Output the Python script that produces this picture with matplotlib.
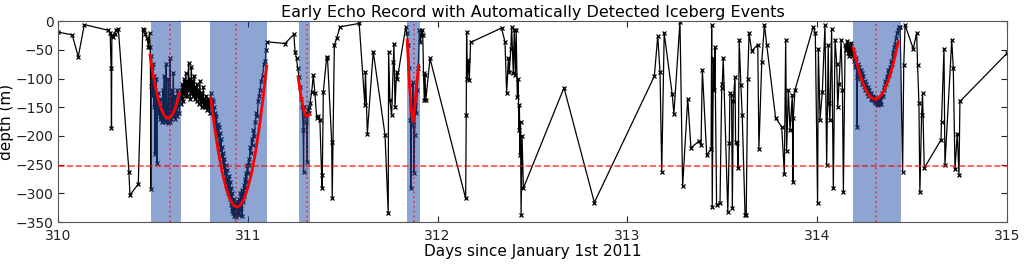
import matplotlib
matplotlib.use("Agg")
import matplotlib.pyplot as plt

# echo record: day, depth (m)
echo_days = [
    310.000, 310.075, 310.107, 310.139, 310.265, 310.275, 310.280, 310.282, 310.284, 310.290,
    310.298, 310.305, 310.318, 310.374, 310.379, 310.423, 310.447, 310.452, 310.460, 310.470,
    310.476,
    # event 1
    310.483, 310.486, 310.488, 310.490, 310.492, 310.495, 310.498, 310.500, 310.503, 310.506,
    310.508, 310.511, 310.513, 310.516, 310.518, 310.521, 310.523, 310.526, 310.528, 310.531,
    310.534, 310.536, 310.539, 310.541, 310.544, 310.547, 310.549, 310.552, 310.554, 310.557,
    310.560, 310.562, 310.565, 310.568, 310.570, 310.573, 310.576, 310.578, 310.581, 310.584,
    310.586, 310.589, 310.591, 310.594, 310.597, 310.600, 310.602, 310.605, 310.608, 310.610,
    310.613, 310.616, 310.618, 310.621, 310.624, 310.626, 310.629, 310.632, 310.635, 310.637,
    310.640, 310.643, 310.646, 310.649,
    # between events 1 and 2
    310.652, 310.655, 310.658, 310.661, 310.664, 310.667, 310.670, 310.673, 310.676, 310.679,
    310.682, 310.685, 310.688, 310.691, 310.694, 310.697, 310.700, 310.703, 310.706, 310.709,
    310.712, 310.715, 310.718, 310.721, 310.724, 310.727, 310.730, 310.733, 310.736, 310.739,
    310.742, 310.745, 310.748, 310.751, 310.754, 310.757, 310.760, 310.763, 310.766, 310.769,
    310.772, 310.775, 310.778, 310.781, 310.784, 310.787, 310.790, 310.793, 310.796, 310.799,
    # event 2
    310.802, 310.805, 310.808, 310.811, 310.814, 310.817, 310.820, 310.823, 310.826, 310.829,
    310.832, 310.835, 310.838, 310.841, 310.844, 310.847, 310.850, 310.853, 310.856, 310.859,
    310.862, 310.865, 310.868, 310.871, 310.874, 310.877, 310.880, 310.883, 310.886, 310.889,
    310.892, 310.895, 310.898, 310.901, 310.904, 310.907, 310.910, 310.913, 310.916, 310.919,
    310.922, 310.925, 310.928, 310.931, 310.934, 310.937, 310.940, 310.943, 310.946, 310.949,
    310.952, 310.955, 310.958, 310.961, 310.964, 310.967, 310.970, 310.973, 310.976, 310.979,
    310.982, 310.985, 310.988, 310.991, 310.994, 310.997, 311.000, 311.004, 311.008, 311.012,
    311.016, 311.020, 311.025, 311.030, 311.035, 311.040, 311.045, 311.050, 311.055, 311.060,
    311.065, 311.070, 311.078, 311.085, 311.092, 311.097, 311.100,
    # up to event 3
    311.196, 311.243, 311.249, 311.257, 311.263,
    # event 3
    311.270, 311.276, 311.282, 311.287, 311.292, 311.294, 311.297, 311.301, 311.305, 311.309,
    311.312, 311.316, 311.320, 311.324, 311.328, 311.337, 311.345, 311.354, 311.363, 311.372,
    311.380, 311.389, 311.392, 311.398, 311.416, 311.420, 311.442, 311.445, 311.456, 311.468,
    311.486, 311.587,
    311.617, 311.620, 311.630, 311.661, 311.723, 311.740, 311.742, 311.749, 311.758, 311.767,
    311.770, 311.776, 311.784, 311.788, 311.832,
    # event 4
    311.838, 311.846, 311.849, 311.853, 311.857, 311.859, 311.863, 311.867, 311.870, 311.873,
    311.876, 311.879, 311.883, 311.888, 311.893, 311.898, 311.904, 311.910, 311.914, 311.918,
    311.922, 311.926, 311.930, 311.934, 311.938, 311.960,
    312.148, 312.151, 312.153, 312.156, 312.162, 312.167, 312.174, 312.337, 312.355, 312.364,
    312.373, 312.378, 312.386, 312.390, 312.399, 312.404, 312.410, 312.414, 312.420, 312.425,
    312.428, 312.431, 312.434, 312.437, 312.440, 312.445, 312.452, 312.666, 312.826, 313.142,
    313.160, 313.172, 313.181, 313.194, 313.236, 313.245, 313.277, 313.291, 313.318, 313.335,
    313.377, 313.388, 313.395, 313.418, 313.441, 313.444, 313.447, 313.453, 313.458, 313.461,
    313.470, 313.488, 313.497, 313.500, 313.505, 313.529, 313.537, 313.540, 313.549, 313.553,
    313.558, 313.567, 313.570, 313.579, 313.584, 313.589, 313.598, 313.605, 313.620, 313.626,
    313.634, 313.641, 313.655, 313.687, 313.693, 313.708, 313.722, 313.734, 313.781, 313.813,
    313.827, 313.834, 313.839, 313.848, 313.857, 313.869, 313.872, 313.874, 313.883, 313.979,
    313.990, 314.002, 314.006, 314.015, 314.027, 314.041, 314.050, 314.058, 314.062, 314.067,
    314.076, 314.085, 314.094, 314.103, 314.108, 314.115, 314.126, 314.133, 314.138, 314.147,
    314.152, 314.156, 314.160, 314.164, 314.168, 314.172, 314.176, 314.180, 314.184, 314.188,
    # event 5
    314.192, 314.196, 314.200, 314.204, 314.208, 314.210, 314.213, 314.218, 314.222, 314.226,
    314.230, 314.234, 314.238, 314.242, 314.246, 314.250, 314.254, 314.258, 314.262, 314.266,
    314.270, 314.274, 314.278, 314.282, 314.286, 314.290, 314.294, 314.298, 314.302, 314.306,
    314.310, 314.314, 314.318, 314.322, 314.326, 314.330, 314.334, 314.338, 314.342, 314.346,
    314.350, 314.354, 314.358, 314.362, 314.366, 314.370, 314.374, 314.378, 314.382, 314.386,
    314.390, 314.394, 314.398, 314.402, 314.406, 314.410, 314.415, 314.420, 314.424, 314.430,
    314.437,
    314.450, 314.456, 314.463, 314.506, 314.524, 314.529, 314.536, 314.541, 314.550, 314.555,
    314.564, 314.652, 314.655, 314.668, 314.673, 314.709, 314.717, 314.726, 314.738, 314.747,
    314.752, 315.000,
]

echo_depth = [
    -19, -24, -62, -6, -16, -20, -82, -186, -25, -27,
    -22, -16, -13, -262, -303, -284, -13, -16, -22, -30,
    -45,
    # event 1
    -20, -45, -113, -292, -60, -80, -130, -75, -110, -150,
    -95, -232, -120, -140, -100, -247, -135, -150, -125, -160,
    -145, -170, -135, -165, -150, -175, -155, -120, -170, -160,
    -95, -175, -165, -150, -75, -170, -160, -178, -100, -165,
    -155, -175, -65, -160, -170, -150, -120, -165, -90, -160,
    -150, -170, -130, -160, -140, -165, -120, -150, -145, -130,
    -160, -125, -145, -120,
    # between events 1 and 2
    -135, -110, -140, -120, -100, -130, -115, -90, -125, -105,
    -130, -110, -73, -120, -100, -135, -110, -80, -125, -105,
    -130, -115, -95, -135, -115, -120, -140, -110, -130, -120,
    -145, -125, -105, -140, -130, -150, -125, -140, -115, -145,
    -135, -150, -130, -145, -140, -155, -135, -150, -140, -160,
    # event 2
    -140, -125, -150, -135, -160, -140, -165, -150, -175, -160,
    -185, -165, -195, -180, -200, -185, -215, -195, -225, -205,
    -235, -220, -245, -230, -255, -240, -265, -250, -280, -260,
    -290, -275, -300, -270, -310, -280, -320, -290, -330, -300,
    -335, -310, -340, -315, -335, -320, -342, -318, -335, -315,
    -338, -310, -330, -300, -325, -295, -340, -300, -315, -285,
    -305, -275, -290, -265, -280, -250, -265, -240, -250, -220,
    -230, -205, -215, -190, -200, -175, -160, -165, -140, -130,
    -120, -105, -95, -75, -70, -50, -36,
    # up to event 3
    -39, -23, -53, -65, -82,
    # event 3
    -97, -115, -135, -150, -190, -262, -150, -165, -160, -175,
    -245, -155, -150, -160, -143, -123, -94, -126, -169, -165,
    -172, -268, -291, -123, -62, -64, -210, -308, -42, -30,
    -10, -4,
    -146, -88, -196, -53, -198, -335, -53, -138, -164, -71,
    -39, -149, -88, -100, -11,
    # event 4
    -20, -42, -82, -111, -172, -291, -150, -172, -106, -181,
    -265, -198, -146, -160, -120, -82, -16, -36, -24, -15,
    -24, -91, -138, -94, -138, -65,
    -309, -164, -19, -100, -68, -103, -37, -12, -36, -126,
    -65, -88, -48, -10, -91, -16, -94, -16, -132, -100,
    -190, -146, -233, -175, -338, -200, -291, -116, -316, -96,
    -26, -89, -262, -21, -127, -162, -1, -288, -135, -221,
    -209, -215, -85, -234, -222, -7, -323, -65, -120, -45,
    -320, -317, -117, -109, -65, -332, -213, -126, -129, -326,
    -140, -97, -210, -213, -256, -33, -111, -164, -338, -338,
    -100, -21, -52, -41, -222, -71, -6, -41, -169, -184,
    -267, -33, -226, -120, -190, -129, -280, -169, -120, -10,
    -20, -317, -48, -172, -123, -7, -251, -42, -143, -172,
    -13, -291, -33, -74, -150, -109, -33, -120, -297, -42,
    -50, -35, -55, -40, -60, -45, -55, -38, -60, -50,
    # event 5
    -70, -55, -80, -65, -97, -184, -75, -90, -80, -100,
    -85, -91, -110, -95, -115, -105, -120, -110, -125, -115,
    -130, -120, -128, -135, -125, -138, -130, -140, -133, -142,
    -135, -145, -138, -146, -140, -145, -132, -145, -125, -130,
    -115, -120, -105, -110, -95, -100, -85, -94, -80, -85,
    -70, -75, -60, -53, -45, -40, -30, -21, -15, -10,
    -10,
    -262, -77, -7, -48, -21, -77, -143, -298, -164, -126,
    -256, -207, -175, -48, -251, -33, -82, -258, -196, -268,
    -140, -56,
]

# detected events: window start, window end, centre
event_start = [310.49, 310.80, 311.27, 311.84, 314.19]
event_end = [310.65, 311.10, 311.33, 311.91, 314.44]
event_centre = [310.59, 310.94, 311.31, 311.875, 314.31]

# fitted curves for each event (day, depth)
fit_days = [
    [310.485, 310.495, 310.505, 310.515, 310.525, 310.535, 310.545, 310.555, 310.565, 310.575,
     310.585, 310.595, 310.605, 310.615, 310.625, 310.635, 310.640],
    [310.805, 310.825, 310.845, 310.865, 310.885, 310.905, 310.925, 310.943, 310.960, 310.980,
     311.000, 311.020, 311.040, 311.060, 311.080, 311.100],
    [311.265, 311.275, 311.285, 311.295, 311.305, 311.315, 311.325],
    [311.840, 311.850, 311.860, 311.870, 311.880, 311.890, 311.900],
    [314.190, 314.205, 314.220, 314.235, 314.250, 314.265, 314.280, 314.295, 314.310, 314.325,
     314.340, 314.355, 314.370, 314.385, 314.400, 314.415, 314.427],
]
fit_depth = [
    [-59, -81, -100, -117, -132, -144, -154, -161, -166, -169,
     -169, -166, -161, -154, -144, -132, -125],
    [-134, -185, -228, -263, -290, -310, -321, -324, -321, -310,
     -291, -265, -230, -187, -136, -78],
    [-97, -120, -140, -155, -165, -166, -162],
    [-33, -100, -150, -175, -150, -110, -77],
    [-47, -68, -87, -103, -116, -125, -132, -135, -136, -133,
     -128, -119, -107, -93, -75, -54, -36],
]

threshold = -252

fig = plt.figure(figsize=(10.24, 2.64), dpi=100)
ax = fig.add_axes([0.0566, 0.159, 0.9268, 0.761])

ax.plot(echo_days, echo_depth, color='black', lw=0.9, marker='x', ms=3.5, mew=0.9, zorder=2)

for s, e in zip(event_start, event_end):
    ax.axvspan(s, e, color='#1f4dab', alpha=0.5, lw=0, zorder=3)
for c in event_centre:
    ax.axvline(c, color='red', ls=':', lw=1.3, alpha=0.6, zorder=4)
for fd, fv in zip(fit_days, fit_depth):
    ax.plot(fd, fv, color='red', lw=2, zorder=5)

ax.axhline(threshold, color='red', ls='--', lw=1.2, alpha=0.7, zorder=4)

ax.set_xlim(310, 315)
ax.set_ylim(-350, 0)
ax.set_xticks([310, 311, 312, 313, 314, 315])
ax.set_yticks(range(-350, 1, 50))
ax.tick_params(direction='in', top=True, right=True, labelsize=10, colors='#222222', length=4, pad=3)
ax.tick_params(axis='x', pad=5)
for sp in ax.spines.values():
    sp.set_color('#555555')

ax.set_title('Early Echo Record with Automatically Detected Iceberg Events', fontsize=11.5, pad=3)
ax.set_xlabel('Days since January 1st 2011', fontsize=11, labelpad=1)
ax.set_ylabel('depth (m)', fontsize=11, labelpad=1)

fig.savefig('out.png', dpi=100)
